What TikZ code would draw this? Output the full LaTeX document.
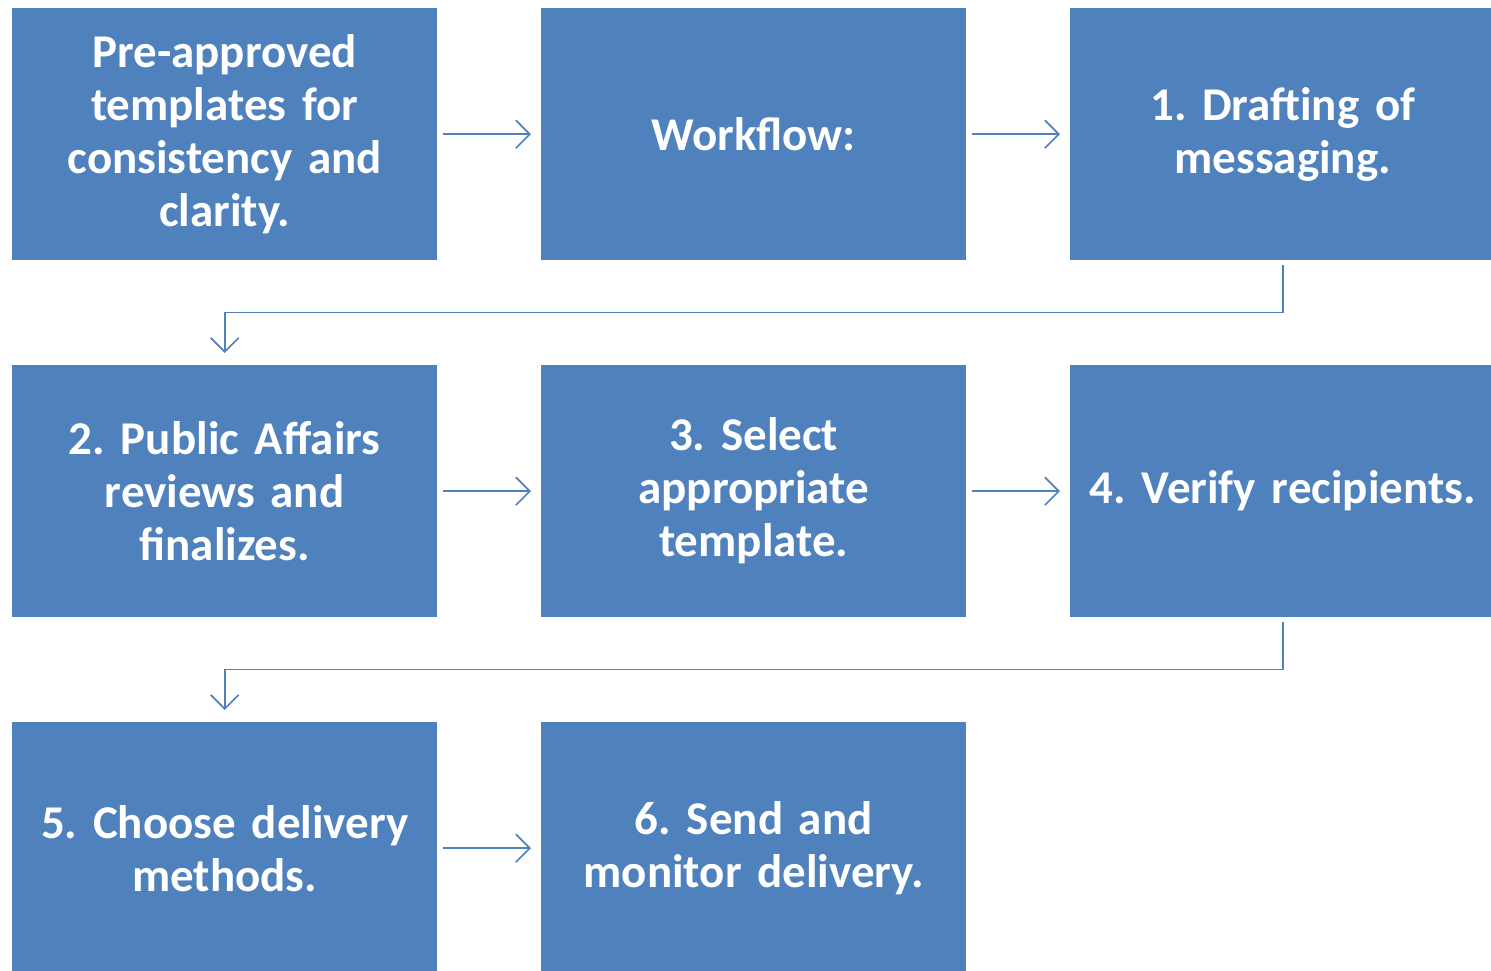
\documentclass[tikz,border=0pt]{standalone}
\usepackage{fontspec}
\setmainfont{Carlito}
\usetikzlibrary{arrows.meta}
\definecolor{boxblue}{HTML}{4F81BD}
\tikzset{
  stepbox/.style={fill=boxblue, draw=none, minimum width=425pt, minimum height=252pt,
    text width=420pt, align=center, inner sep=0pt, text=white,
    font=\fontsize{47pt}{53pt}\selectfont\bfseries\frenchspacing, anchor=north west},
  conn/.style={draw=boxblue, line width=1.7pt, -{Straight Barb[length=14pt, width=28pt, line width=1.7pt]}}
}
\begin{document}
\begin{tikzpicture}[x=1pt, y=-1pt]
\useasboundingbox (0,0) rectangle (1491,971);
\begin{scope}
\clip (0,0) rectangle (1491,971);
\node[stepbox] (b1) at (12,8) {Pre-approved\\ templates for\\ consistency and\\ clarity.};
\node[stepbox] (b2) at (541,8) {Workflow:};
\node[stepbox] (b3) at (1070,8) {1. Drafting of\\ messaging.};
\node[stepbox] (b4) at (12,365) {2. Public Affairs\\ reviews and\\ finalizes.};
\node[stepbox] (b5) at (541,365) {3. Select\\ appropriate\\ template.};
\node[stepbox] (b6) at (1070,365) {4. Verify recipients.};
\node[stepbox] (b7) at (12,722) {5. Choose delivery\\ methods.};
\node[stepbox] (b8) at (541,722) {6. Send and\\ monitor delivery.};
\end{scope}
\draw[conn] ([xshift=6pt]b1.east) -- ([xshift=-10pt]b2.west);
\draw[conn] ([xshift=6pt]b2.east) -- ([xshift=-10pt]b3.west);
\draw[conn] ([xshift=6pt]b4.east) -- ([xshift=-10pt]b5.west);
\draw[conn] ([xshift=6pt]b5.east) -- ([xshift=-10pt]b6.west);
\draw[conn] ([xshift=6pt]b7.east) -- ([xshift=-10pt]b8.west);
\draw[conn] ([yshift=-5pt]b3.south) -- ++(0,47) -| ([yshift=12pt]b4.north);
\draw[conn] ([yshift=-5pt]b6.south) -- ++(0,47) -| ([yshift=12pt]b7.north);
\end{tikzpicture}
\end{document}
